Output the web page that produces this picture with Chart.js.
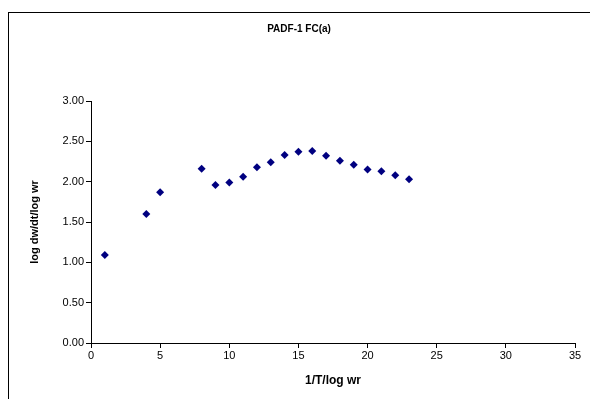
<!DOCTYPE html>
<html>
<head>
<meta charset="utf-8">
<script src="https://cdn.jsdelivr.net/npm/chart.js@4"></script>
<style>
  html, body { margin: 0; padding: 0; background: #fff; overflow: hidden; }
  #wrap { position: relative; width: 590px; height: 399px; }
  #frame { position: absolute; left: 8px; top: 12px; width: 600px; height: 400px; border: 1px solid #000; box-sizing: border-box; pointer-events: none; }
  canvas { position: absolute; left: 0; top: 0; }
</style>
</head>
<body>
<div id="wrap">
  <canvas id="c" width="590" height="399"></canvas>
  <div id="frame"></div>
</div>
<script>
// Data
const xValues = [1, 4, 5, 8, 9, 10, 11, 12, 13, 14, 15, 16, 17, 18, 19, 20, 21, 22, 23];
const yValues = [1.09, 1.60, 1.87, 2.16, 1.96, 1.99, 2.06, 2.18, 2.24, 2.33, 2.37, 2.38, 2.32, 2.26, 2.21, 2.15, 2.13, 2.08, 2.03];
const chartTitle = 'PADF-1 FC(a)';
const xTitle = '1/T/log wr';
const yTitle = 'log dw/dt/log wr';

const points = xValues.map((x, i) => ({ x: x, y: yValues[i] }));
const FONT = "'Liberation Sans', Arial, sans-serif";

new Chart(document.getElementById('c'), {
  type: 'scatter',
  data: {
    datasets: [{
      data: points,
      pointStyle: 'rectRot',
      pointRadius: 4,
      pointBackgroundColor: '#000080',
      pointBorderColor: '#000080',
      pointBorderWidth: 0,
      showLine: false
    }]
  },
  options: {
    responsive: false,
    animation: false,
    devicePixelRatio: 1,
    layout: { padding: { left: 8, right: 0, top: 0, bottom: 0 } },
    plugins: {
      legend: { display: false },
      tooltip: { enabled: false },
      title: {
        display: true,
        text: chartTitle,
        color: '#000',
        font: { family: FONT, size: 10, weight: 'bold', lineHeight: 1.2 },
        padding: { top: 23, bottom: 66 }
      }
    },
    scales: {
      x: {
        type: 'linear',
        min: 0, max: 35,
        position: 'bottom',
        ticks: { stepSize: 5, color: '#000', font: { family: FONT, size: 11 }, padding: 1, maxRotation: 0 },
        grid: { drawOnChartArea: false, drawTicks: true, tickLength: 5, color: '#000' },
        border: { display: true, color: '#000', width: 1 },
        title: { display: true, text: xTitle, color: '#000', font: { family: FONT, size: 12, weight: 'bold', lineHeight: 1.2 }, padding: { top: 0, bottom: 11 } },
        afterFit: s => { s.height = 56; }
      },
      y: {
        type: 'linear',
        min: 0, max: 3,
        position: 'left',
        ticks: { stepSize: 0.5, color: '#000', font: { family: FONT, size: 11 }, padding: 2, callback: v => Number(v).toFixed(2) },
        grid: { drawOnChartArea: false, drawTicks: true, tickLength: 5, color: '#000' },
        border: { display: true, color: '#000', width: 1 },
        title: { display: true, text: yTitle, color: '#000', font: { family: FONT, size: 11, weight: 'bold', lineHeight: 1.2 }, padding: { top: 20, bottom: 0 } },
        afterFit: s => { s.width = 83; }
      },
      yRight: {
        type: 'linear',
        position: 'right',
        display: true,
        min: 0, max: 3,
        ticks: { display: false },
        grid: { display: false },
        border: { display: false },
        afterFit: s => { s.width = 15; }
      }
    }
  }
});
</script>
</body>
</html>
